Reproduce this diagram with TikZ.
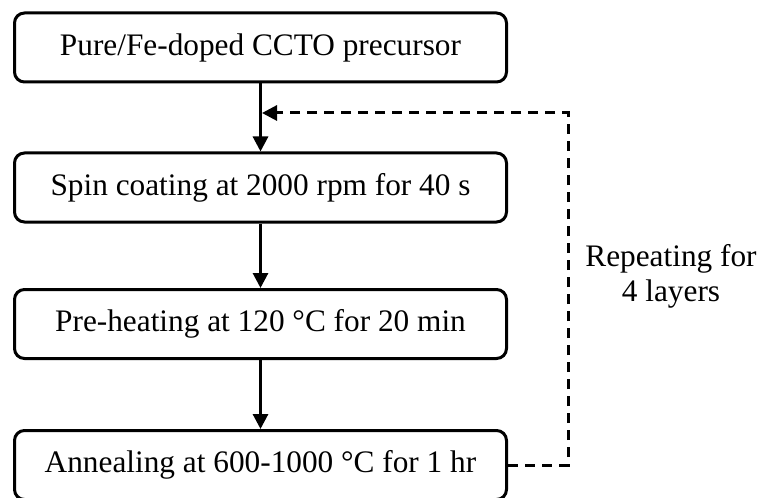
\documentclass[tikz,border=0pt]{standalone}
\usepackage{fontspec}
\setmainfont{Liberation Serif}
\usetikzlibrary{arrows.meta}

\tikzset{
  stage/.style={draw, line width=1.5pt, rounded corners=5pt,
    minimum width=246pt, minimum height=34.5pt, inner sep=0pt},
  flow/.style={line width=1.5pt, -{Triangle[length=7.5pt,width=7.5pt]}},
  loopback/.style={flow, dash pattern=on 5pt off 3.5pt},
}

\begin{document}
\begin{tikzpicture}[x=0.5pt, y=-0.5pt, font=\fontsize{15.65}{17.5}\selectfont]
      \useasboundingbox (0,0) rectangle (763,497);
      \draw
        (260.5,47.5) node[stage] (precursor){Pure/Fe-doped CCTO precursor}
        (260.5,187.5) node[stage] (spin){Spin coating at 2000 rpm for 40 s}
        (260.5,324) node[stage] (preheat){Pre-heating at 120 °C for 20 min}
        (260.5,465) node[stage] (anneal){Annealing at 600-1000 °C for 1 hr};
      \node[align=center] (repeat) at (671,276) {Repeating for\\4 layers};
      \coordinate (merge) at (precursor.south |- 0,113);
      \coordinate (turn) at (568,113);
      \begin{scope}[flow]
        \draw (precursor) to (spin);
        \draw (spin) to (preheat);
        \draw (preheat) to (anneal);
      \end{scope}
      \draw[loopback, shorten >=0.75pt] (anneal.east) -| (turn) -- (merge);
    \end{tikzpicture}
\end{document}
